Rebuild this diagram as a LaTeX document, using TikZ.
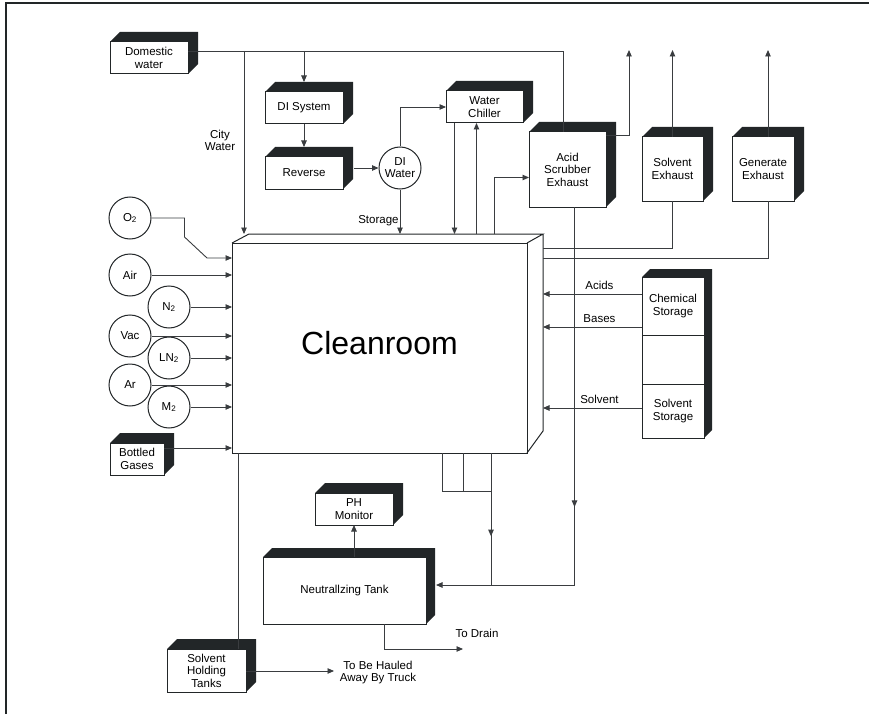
\documentclass[tikz,border=0pt]{standalone}
\usepackage{fontspec}
\setmainfont{Liberation Sans}
\usetikzlibrary{arrows.meta,positioning,calc,backgrounds,decorations.markings}
\definecolor{ink}{HTML}{222628}
\definecolor{wire}{HTML}{3A3D40}
\tikzset{
  blk/.style    ={draw=ink,fill=white,line width=1pt,inner sep=0pt,outer sep=0pt,
                  align=center,font=\fontsize{11.5}{12.5}\selectfont},
  gas/.style    ={circle,draw=ink,fill=white,line width=1pt,minimum size=42pt,
                  inner sep=0pt,align=center,font=\fontsize{11.5}{12}\selectfont},
  pipe/.style   ={draw=wire,line width=0.9pt},
  flow/.style   ={pipe,-{Triangle[length=6.5pt,width=5.5pt]}},
  midflow/.style={pipe,postaction={decorate},decoration={markings,
                  mark=at position #1 with {\arrow{Triangle[length=6.5pt,width=5.5pt]}}}},
  lbl/.style    ={inner sep=1pt,align=center,font=\fontsize{11.5}{12}\selectfont},
  slab/.style   ={fill=ink}
}
\newcommand\extrude[3][10pt]{%
  \fill[slab] (#2.north west) -- ++(#1,#1) -| ($(#3.south east)+(#1,#1)$)
    -- (#3.south east) -- cycle;}

\begin{document}
\begin{tikzpicture}[x=1pt,y=-1pt]
  \useasboundingbox (0,0) rectangle (869,714);
  \draw[ink,line width=2.4pt] (6,714) |- (869,3);

  \node[blk,minimum width=78pt,minimum height=32pt] (dom) at (149,58) {Domestic\\water};
  \node[blk,minimum width=78pt,minimum height=32pt] (dis) at (304,108) {DI System};
  \node[blk,minimum width=78pt,minimum height=32pt] (rev) at (304,173) {Reverse};
  \node[gas] (diw) at (400,168) {DI\\Water};
  \node[blk,minimum width=77pt,minimum height=32pt] (chill) at (484.5,107) {Water\\Chiller};
  \node[blk,minimum width=77pt,minimum height=75pt] (acid) at (567.5,169.5) {Acid\\Scrubber\\Exhaust};
  \node[blk,minimum width=61pt,minimum height=64pt] (solx) at (672.5,169) {Solvent\\Exhaust};
  \node[blk,minimum width=62pt,minimum height=64pt] (genx) at (763,169) {Generate\\Exhaust};

  \node[blk,minimum width=295pt,minimum height=210pt,font=\fontsize{32}{34}\selectfont]
       (clean) at (379.5,348) {\raisebox{10pt}{Cleanroom}};
  \coordinate (ctop) at ($(clean.north west)+(17pt,9pt)$);
  \coordinate (cback) at ($(clean.north east)+(16pt,9pt)$);
  \draw[ink,line width=1pt] (clean.north west) -- (ctop) -- (cback) -- (clean.north east)
       (cback) -- ($(clean.south east)+(16pt,22pt)$) -- (clean.south east);

  \node[blk,minimum width=62pt,minimum height=58pt] (chem) at (673,306) {Chemical\\Storage};
  \node[blk,minimum width=62pt,minimum height=49pt,below=0pt of chem] (gap) {};
  \node[blk,minimum width=62pt,minimum height=54pt,below=0pt of gap] (solv) {Solvent\\Storage};

  \node[gas] (o2) at (130,218) {O\textsubscript{2}};
  \node[gas] (air) at (130,275) {Air};
  \node[gas] (n2) at (169,307) {N\textsubscript{2}};
  \node[gas] (vac) at (130,336) {Vac};
  \node[gas] (ln2) at (169,358) {LN\textsubscript{2}};
  \node[gas] (ar) at (130,385) {Ar};
  \node[gas] (m2) at (169,407) {M\textsubscript{2}};
  \node[blk,minimum width=54pt,minimum height=32pt] (bot) at (137,459) {Bottled\\Gases};

  \node[blk,minimum width=78pt,minimum height=32pt] (ph) at (354,509) {PH\\Monitor};
  \node[blk,minimum width=163pt,minimum height=67pt] (neut) at (344.5,590.5) {Neutrallzing Tank};
  \node[blk,minimum width=79pt,minimum height=43pt] (hold) at (206.5,670.5) {Solvent\\Holding\\Tanks};

  \begin{scope}[on background layer]
    \extrude{dom}{dom} \extrude{dis}{dis} \extrude{rev}{rev} \extrude{chill}{chill}
    \extrude{acid}{acid} \extrude{solx}{solx} \extrude{genx}{genx}
    \extrude[8pt]{chem}{solv} \extrude{bot}{bot} \extrude{ph}{ph}
    \extrude[9pt]{neut}{neut} \extrude{hold}{hold}
  \end{scope}

  \coordinate (cw) at (244,51);
  \draw[pipe] ([yshift=7pt]dom.east) -| ([xshift=-4pt]acid.north);
  \draw[flow] (cw) -- (cw |- ctop);
  \node[lbl] (city) at (220,140) {City\\Water};
  \draw[flow] (dis.north |- cw) -- ([yshift=10pt]dis.north);
  \draw[flow] (dis.south) -- ([yshift=10pt]rev.north);
  \draw[flow] ($(rev.east |- diw)+(11pt,0)$) -- (diw.west);
  \draw[flow] (diw.north) |- (chill.west);
  \draw[flow] (diw.south) -- (diw.south |- ctop) node[lbl,left,pos=0.7] {Storage};

  \coordinate (chd) at ([xshift=-30pt]chill.south);
  \coordinate (chu) at ([xshift=-8pt]chill.south);
  \coordinate (chs) at ([xshift=10pt]chill.south);
  \draw[flow] (chd) -- (chd |- ctop);
  \draw[flow] (chu |- ctop) -- (chu);
  \draw[flow] (chs |- ctop) |- ([yshift=-8pt]acid.west);

  \coordinate (vent) at (629,50);
  \coordinate (gv) at ([xshift=5pt]genx.north);
  \draw[flow] ([yshift=-3pt]acid.north east) -| (vent);
  \draw[flow] (solx.north) -- (solx.north |- vent);
  \draw[flow] (gv) -- (gv |- vent);
  \draw[pipe] (solx.south) |- ($(cback)+(0,-14pt)$);
  \draw[pipe] (gv |- genx.south) |- ($(cback)+(0,-24pt)$);

  \coordinate (acids) at (543,294);
  \coordinate (bases) at (543,327);
  \coordinate (solin) at (543,408);
  \draw[flow] (acids -| chem.west) -- (acids) node[lbl,above=3pt,pos=0.43] {Acids};
  \draw[flow] (bases -| chem.west) -- (bases) node[lbl,above=3pt,pos=0.43] {Bases};
  \draw[flow] (solin -| solv.west) -- (solin) node[lbl,above=3pt,pos=0.43] {Solvent};

  \draw[flow] (o2.east) -| ++(33,19) -- (207,258) coordinate (o2in) -- (o2in -| clean.west);
  \foreach \g in {air,n2,vac,ln2,ar,m2}
    \draw[flow] (\g.east) -- (\g.east -| clean.west);
  \coordinate (bg) at ([yshift=11pt]bot.east);
  \draw[flow] (bg) -- (bg -| clean.west);

  \coordinate (jn) at (491,585);
  \coordinate (m1) at (442,491);
  \coordinate (m2) at (463,491);
  \coordinate (m3) at (491,491);
  \draw[pipe] (m1 |- clean.south) -- (m1) -- (m3);
  \draw[pipe] (m2 |- clean.south) -- (m2);
  \draw[midflow=0.63] (m3 |- clean.south) -- (jn);
  \draw[midflow=0.65] ([xshift=7pt]acid.south) |- (jn);
  \draw[flow] (jn) -- ($(neut.east |- jn)+(10pt,0)$);
  \draw[flow] (ph.south |- neut.north) -- (ph.south);

  \coordinate (drain) at (463,649);
  \draw[flow] ([xshift=40pt]neut.south) |- (drain);
  \node[lbl] (todrain) at (477,633) {To Drain};

  \coordinate (sh) at ([xshift=6pt]clean.south west);
  \draw[pipe] (sh) -- (sh |- hold.north);
  \coordinate (truck) at (334,671);
  \draw[flow] (hold.east |- truck) -- (truck);
  \node[lbl] (haul) at (378,673) {To Be Hauled\\Away By Truck};
\end{tikzpicture}
\end{document}
